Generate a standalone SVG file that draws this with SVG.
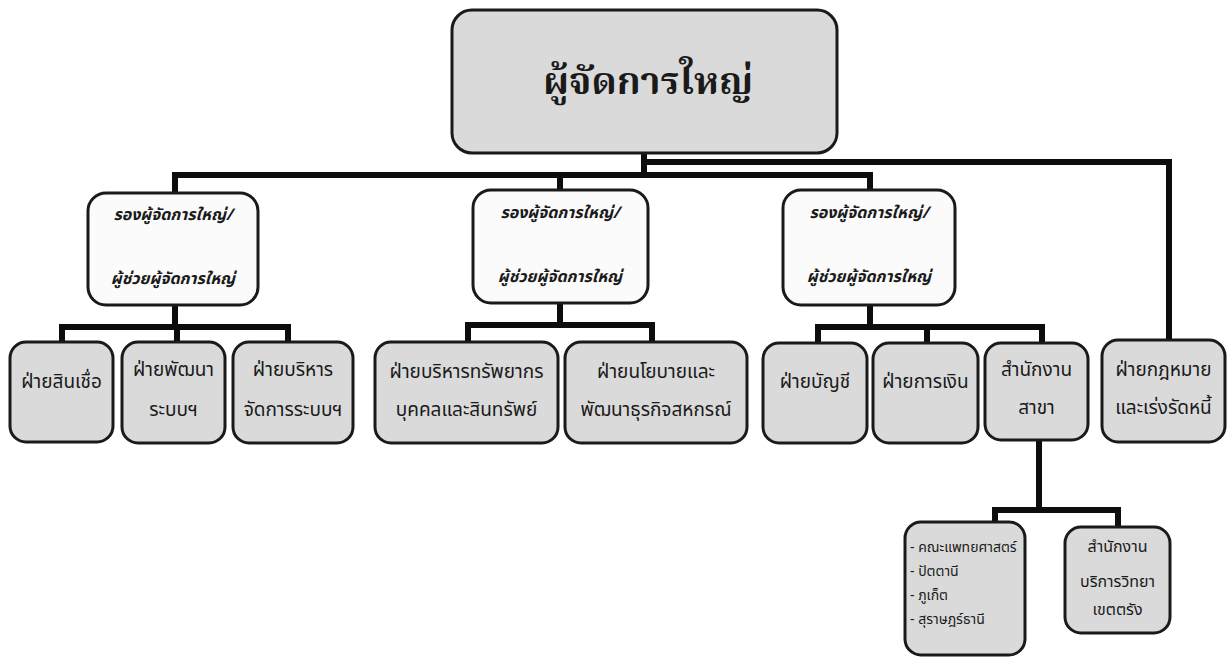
<svg xmlns="http://www.w3.org/2000/svg" width="1228" height="662" viewBox="0 0 1228 662">
<style>
.bg{fill:#ffffff}
.gray{fill:#dadada;stroke:#1a1a1a;stroke-width:3}
.white{fill:#fbfbfb;stroke:#1a1a1a;stroke-width:3}
.conn{fill:none;stroke:#0d0d0d;stroke-width:6;stroke-linecap:square;stroke-linejoin:miter}
text{font-family:"Noto Sans Thai","Noto Serif Thai","DejaVu Sans","Noto Sans",sans-serif;fill:#1a1a1a;text-anchor:middle;dominant-baseline:central}
.title{font-size:38px;font-weight:bold;font-family:"Noto Serif Thai","Noto Sans Thai","Liberation Serif",serif}
.vp{font-size:16px;font-weight:bold;font-style:italic}
.dept{font-size:19px}
.small{font-size:14px}
.mid{font-size:16px}
.left{text-anchor:start}
</style>
<rect class="bg" x="0" y="0" width="1228" height="662"/>
<g id="connectors">
<path class="conn" d="M644 153 V175 M175 175 H870 M175 175 V192 M560 175 V190 M870 175 V190"/>
<path class="conn" d="M644 162 H1169 V340"/>
<path class="conn" d="M175 305 V327 M62 327 H288 M62 327 V342 M177 327 V342 M288 327 V342"/>
<path class="conn" d="M560 303 V325 M468 325 H652 M468 325 V342 M652 325 V342"/>
<path class="conn" d="M870 305 V327 M818 327 H1042 M818 327 V343 M927 327 V343 M1042 327 V343"/>
<path class="conn" d="M1039 440 V510 M995 510 H1118 M995 510 V522 M1118 510 V527"/>
</g>
<g id="n-gm">
<rect class="gray" x="452" y="10" width="385" height="143" rx="20"/>
<text class="title" x="648" y="84">ผู้จัดการใหญ่</text>
</g>
<g id="n-vp1">
<rect class="white" x="88" y="193" width="170" height="112" rx="18"/>
<text class="vp" x="173" y="215">รองผู้จัดการใหญ่/</text>
<text class="vp" x="173" y="279">ผู้ช่วยผู้จัดการใหญ่</text>
</g>
<g id="n-vp2">
<rect class="white" x="473" y="190" width="175" height="113" rx="18"/>
<text class="vp" x="560" y="213">รองผู้จัดการใหญ่/</text>
<text class="vp" x="560" y="277">ผู้ช่วยผู้จัดการใหญ่</text>
</g>
<g id="n-vp3">
<rect class="white" x="783" y="190" width="172" height="115" rx="18"/>
<text class="vp" x="869" y="213">รองผู้จัดการใหญ่/</text>
<text class="vp" x="869" y="277">ผู้ช่วยผู้จัดการใหญ่</text>
</g>
<g id="n-credit">
<rect class="gray" x="10" y="342" width="103" height="100" rx="16"/>
<text class="dept" x="61.5" y="382">ฝ่ายสินเชื่อ</text>
</g>
<g id="n-sysdev">
<rect class="gray" x="122" y="342" width="103" height="101" rx="16"/>
<text class="dept" x="173.5" y="370">ฝ่ายพัฒนา</text>
<text class="dept" x="173.5" y="410">ระบบฯ</text>
</g>
<g id="n-sysmgmt">
<rect class="gray" x="233" y="342" width="120" height="101" rx="16"/>
<text class="dept" x="293" y="370">ฝ่ายบริหาร</text>
<text class="dept" x="293" y="410">จัดการระบบฯ</text>
</g>
<g id="n-hr">
<rect class="gray" x="375" y="342" width="183" height="101" rx="16"/>
<text class="dept" x="466.5" y="372">ฝ่ายบริหารทรัพยากร</text>
<text class="dept" x="466.5" y="410">บุคคลและสินทรัพย์</text>
</g>
<g id="n-policy">
<rect class="gray" x="565" y="342" width="182" height="101" rx="16"/>
<text class="dept" x="656" y="372">ฝ่ายนโยบายและ</text>
<text class="dept" x="656" y="410">พัฒนาธุรกิจสหกรณ์</text>
</g>
<g id="n-account">
<rect class="gray" x="763" y="343" width="104" height="100" rx="16"/>
<text class="dept" x="815" y="382">ฝ่ายบัญชี</text>
</g>
<g id="n-finance">
<rect class="gray" x="873" y="343" width="105" height="100" rx="16"/>
<text class="dept" x="925.5" y="382">ฝ่ายการเงิน</text>
</g>
<g id="n-branch">
<rect class="gray" x="985" y="343" width="103" height="97" rx="16"/>
<text class="dept" x="1036.5" y="370">สำนักงาน</text>
<text class="dept" x="1036.5" y="408">สาขา</text>
</g>
<g id="n-legal">
<rect class="gray" x="1102" y="340" width="123" height="102" rx="16"/>
<text class="dept" x="1163.5" y="370">ฝ่ายกฎหมาย</text>
<text class="dept" x="1163.5" y="408">และเร่งรัดหนี้</text>
</g>
<g id="n-branches">
<rect class="gray" x="905" y="522" width="120" height="133" rx="16"/>
<text class="small left" x="910" y="547">- คณะแพทยศาสตร์</text>
<text class="small left" x="910" y="571">- ปัตตานี</text>
<text class="small left" x="910" y="595">- ภูเก็ต</text>
<text class="small left" x="910" y="619">- สุราษฎร์ธานี</text>
</g>
<g id="n-trang">
<rect class="gray" x="1065" y="527" width="105" height="106" rx="16"/>
<text class="mid" x="1117.5" y="547">สำนักงาน</text>
<text class="mid" x="1117.5" y="582">บริการวิทยา</text>
<text class="mid" x="1117.5" y="610">เขตตรัง</text>
</g>
</svg>
